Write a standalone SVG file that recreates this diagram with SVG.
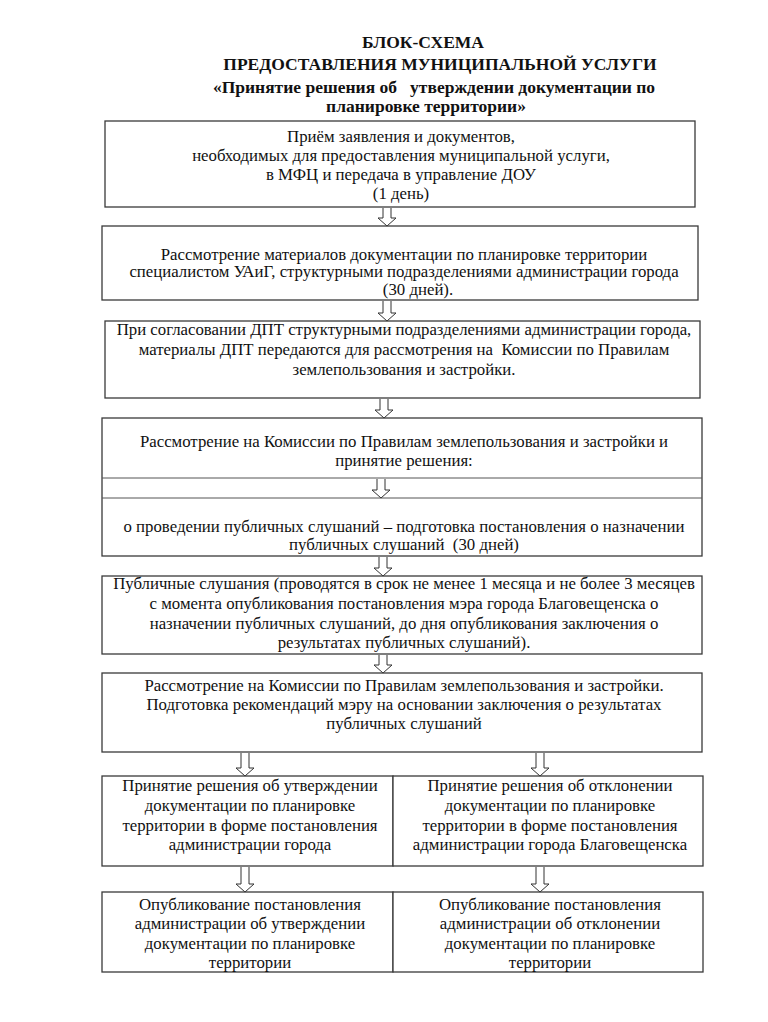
<svg xmlns="http://www.w3.org/2000/svg" width="768" height="1022" viewBox="0 0 768 1022">
<style>
.bg{fill:#ffffff}
.box{fill:#ffffff;stroke:#3a3a3a;stroke-width:1.3}
.div{stroke:#555;stroke-width:1}
.t{font-family:"Liberation Serif","Times New Roman","DejaVu Serif",serif;font-size:16.8px;fill:#111;text-anchor:middle}
.h{font-family:"Liberation Serif","Times New Roman","DejaVu Serif",serif;font-size:17.5px;font-weight:bold;fill:#111;text-anchor:middle}
.arr{fill:#ffffff;stroke:#333;stroke-width:1}
</style>
<rect class="bg" x="0" y="0" width="768" height="1022"/>
<g id="title">
<text class="h" x="423" y="48">БЛОК-СХЕМА</text>
<text class="h" x="440" y="70">ПРЕДОСТАВЛЕНИЯ МУНИЦИПАЛЬНОЙ УСЛУГИ</text>
<text class="h" x="434" y="93" xml:space="preserve">«Принятие решения об   утверждении документации по</text>
<text class="h" x="426" y="112">планировке территории»</text>
</g>
<g id="n1">
<rect class="box" x="105" y="121" width="590" height="86"/>
<text class="t" x="401" y="142">Приём заявления и документов,</text>
<text class="t" x="401" y="161">необходимых для предоставления муниципальной услуги,</text>
<text class="t" x="401" y="180">в МФЦ и передача в управление ДОУ</text>
<text class="t" x="401" y="199">(1 день)</text>
</g>
<g id="n2">
<rect class="box" x="102" y="226" width="596" height="74"/>
<text class="t" x="404" y="260">Рассмотрение материалов документации по планировке территории</text>
<text class="t" x="404" y="277">специалистом УАиГ, структурными подразделениями администрации города</text>
<text class="t" x="418" y="295">(30 дней).</text>
</g>
<g id="n3">
<rect class="box" x="105" y="321" width="595" height="77"/>
<text class="t" x="404" y="335">При согласовании ДПТ структурными подразделениями администрации города,</text>
<text class="t" x="404" y="355" xml:space="preserve">материалы ДПТ передаются для рассмотрения на  Комиссии по Правилам</text>
<text class="t" x="404" y="375">землепользования и застройки.</text>
</g>
<g id="n4">
<rect class="box" x="102" y="418" width="600" height="138"/>
<line class="div" x1="102" y1="478" x2="702" y2="478"/>
<line class="div" x1="102" y1="498" x2="702" y2="498"/>
<text class="t" x="404" y="447">Рассмотрение на Комиссии по Правилам землепользования и застройки и</text>
<text class="t" x="404" y="466">принятие решения:</text>
<text class="t" x="404" y="532">о проведении публичных слушаний – подготовка постановления о назначении</text>
<text class="t" x="404" y="550" xml:space="preserve">публичных слушаний  (30 дней)</text>
</g>
<g id="n5">
<rect class="box" x="102" y="576" width="600" height="78"/>
<text class="t" x="404" y="589">Публичные слушания (проводятся в срок не менее 1 месяца и не более 3 месяцев</text>
<text class="t" x="404" y="609">с момента опубликования постановления мэра города Благовещенска о</text>
<text class="t" x="404" y="629">назначении публичных слушаний, до дня опубликования заключения о</text>
<text class="t" x="404" y="648">результатах публичных слушаний).</text>
</g>
<g id="n6">
<rect class="box" x="102" y="673" width="600" height="79"/>
<text class="t" x="404" y="691">Рассмотрение на Комиссии по Правилам землепользования и застройки.</text>
<text class="t" x="404" y="710">Подготовка рекомендаций мэру на основании заключения о результатах</text>
<text class="t" x="404" y="729">публичных слушаний</text>
</g>
<g id="n7a">
<rect class="box" x="102" y="776" width="291" height="90"/>
<text class="t" x="250" y="791">Принятие решения об утверждении</text>
<text class="t" x="250" y="811">документации по планировке</text>
<text class="t" x="250" y="831">территории в форме постановления</text>
<text class="t" x="250" y="850">администрации города</text>
</g>
<g id="n7b">
<rect class="box" x="393" y="776" width="310" height="90"/>
<text class="t" x="550" y="791">Принятие решения об отклонении</text>
<text class="t" x="550" y="811">документации по планировке</text>
<text class="t" x="550" y="831">территории в форме постановления</text>
<text class="t" x="550" y="850">администрации города Благовещенска</text>
</g>
<g id="n8a">
<rect class="box" x="102" y="892" width="291" height="80"/>
<text class="t" x="250" y="910">Опубликование постановления</text>
<text class="t" x="250" y="929">администрации об утверждении</text>
<text class="t" x="250" y="949">документации по планировке</text>
<text class="t" x="250" y="968">территории</text>
</g>
<g id="n8b">
<rect class="box" x="393" y="892" width="310" height="80"/>
<text class="t" x="550" y="910">Опубликование постановления</text>
<text class="t" x="550" y="929">администрации об отклонении</text>
<text class="t" x="550" y="949">документации по планировке</text>
<text class="t" x="550" y="968">территории</text>
</g>
<g id="connectors">
<path class="arr" d="M383,208 V218 H378 L387,226 L396,218 H391 V208"/>
<path class="arr" d="M383,301 V313 H378 L387,321 L396,313 H391 V301"/>
<path class="arr" d="M380,399 V410 H375 L384,418 L393,410 H388 V399"/>
<path class="arr" d="M377,479 V490 H372 L381,498 L390,490 H385 V479"/>
<path class="arr" d="M379,557 V568 H374 L383,576 L392,568 H387 V557"/>
<path class="arr" d="M379,655 V665 H374 L383,673 L392,665 H387 V655"/>
<path class="arr" d="M241,753 V768 H236 L245,776 L254,768 H249 V753"/>
<path class="arr" d="M536,753 V768 H531 L540,776 L549,768 H544 V753"/>
<path class="arr" d="M241,867 V884 H236 L245,892 L254,884 H249 V867"/>
<path class="arr" d="M536,867 V884 H531 L540,892 L549,884 H544 V867"/>
</g>
</svg>
